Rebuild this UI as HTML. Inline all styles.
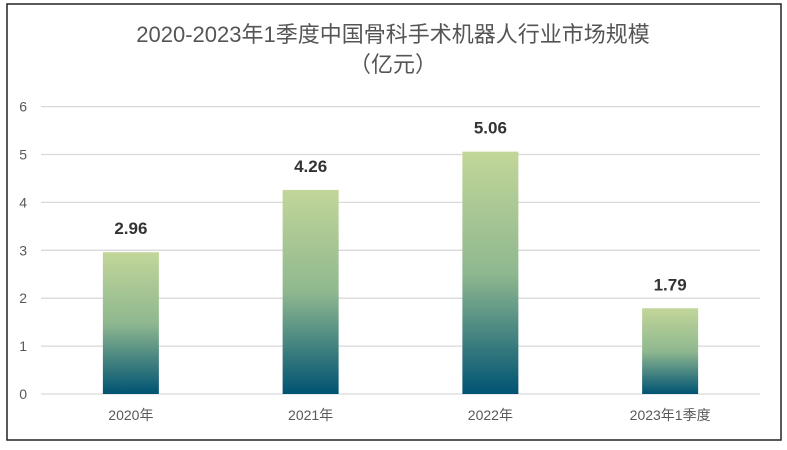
<!DOCTYPE html>
<html><head><meta charset="utf-8"><style>
html,body{margin:0;padding:0;background:#fff;}
body{width:787px;height:445px;overflow:hidden;font-family:"Liberation Sans","Noto Sans CJK SC",sans-serif;}
</style></head><body>
<svg width="787" height="445" xmlns="http://www.w3.org/2000/svg">
<defs><linearGradient id="g" x1="0" y1="0" x2="0" y2="1">
<stop offset="0" stop-color="#c2d699"/><stop offset="0.5" stop-color="#8fb88f"/><stop offset="1" stop-color="#005373"/></linearGradient></defs>
<rect x="7" y="4" width="774" height="436" fill="#fff" stroke="#222" stroke-width="1.5"/>
<text x="393" y="42" text-anchor="middle" font-size="22" fill="#555">2020-2023年1季度中国骨科手术机器人行业市场规模</text>
<text x="393" y="72" text-anchor="middle" font-size="22" fill="#555">（亿元）</text>
<g id="grid"></g><g id="bars"></g>
</svg>
<script>
const categories=["2020年","2021年","2022年","2023年1季度"];
const values=[2.96,4.26,5.06,1.79];
const labels=["2.96","4.26","5.06","1.79"];
const yTicks=[0,1,2,3,4,5,6];
const ns="http://www.w3.org/2000/svg";
const y0=394,unit=47.9,left=41,right=760,bw=56;
const y=v=>y0-v*unit;
const x=i=>left+(right-left)/categories.length*(i+0.5);
const grid=document.getElementById('grid'),bars=document.getElementById('bars');
function mk(t,a,p){const e=document.createElementNS(ns,t);for(const k in a)e.setAttribute(k,a[k]);p.appendChild(e);return e;}
yTicks.forEach(t=>{
const l=mk('line',{x1:left,x2:right,y1:y(t),y2:y(t),stroke:'#d9d9d9','stroke-width':1.3},grid);


const tx=mk('text',{x:27,y:y(t)+5,'font-size':14,fill:'#595959','text-anchor':'end'},grid);
tx.textContent=t;


});
categories.forEach((c,i)=>{
const r=mk('rect',{x:x(i)-bw/2,y:y(values[i]),width:bw,height:values[i]*unit,fill:'url(#g)'},bars);


const v=mk('text',{x:x(i),y:y(values[i])-18,'font-size':17,'font-weight':'bold',fill:'#333','text-anchor':'middle'},bars);
v.textContent=labels[i];


const cl=mk('text',{x:x(i),y:420,'font-size':14,fill:'#595959','text-anchor':'middle'},bars);
cl.textContent=c;


});
</script>
</body></html>
